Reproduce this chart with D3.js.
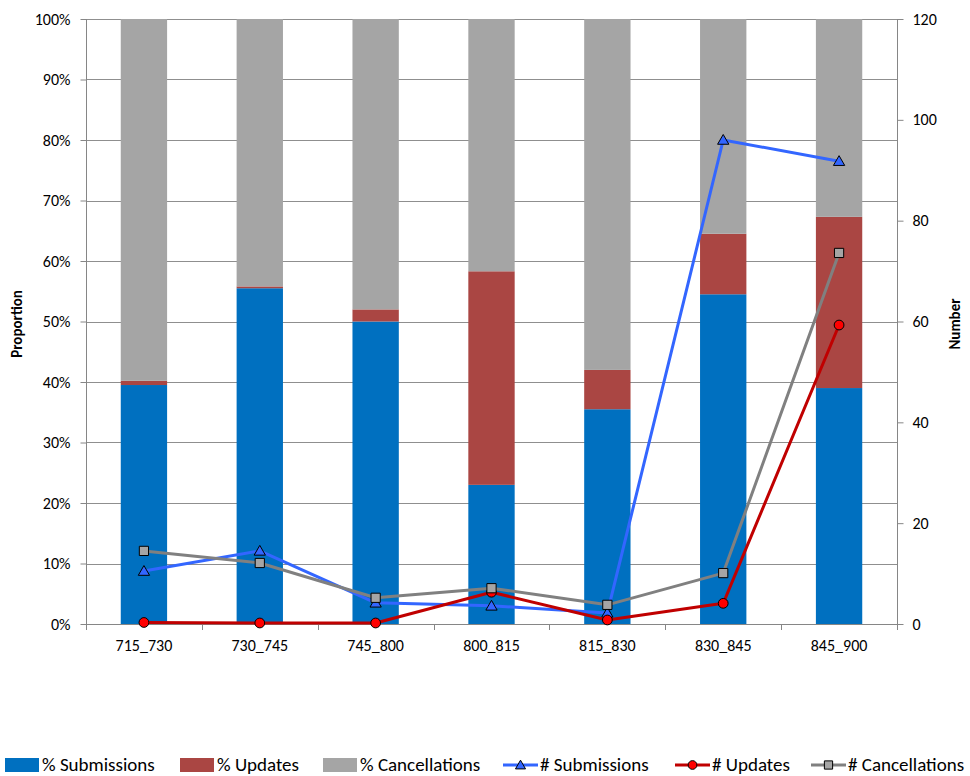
<!DOCTYPE html>
<html>
<head>
<meta charset="utf-8">
<script src="https://cdn.jsdelivr.net/npm/d3@7"></script>
<style>
  body { margin: 0; background: #fff; }
  svg text { font-family: Carlito, Calibri, Lato, "Open Sans", sans-serif; fill: #000; }
</style>
</head>
<body>
<svg id="chart" width="970" height="776"></svg>
<script>
// categories and values
var categories = ["715_730", "730_745", "745_800", "800_815", "815_830", "830_845", "845_900"];
var pctSubmissions = [39.5, 55.5, 50.0, 23.0, 35.5, 54.5, 39.0];
var pctUpdates     = [0.7, 0.3, 2.0, 35.3, 6.5, 10.0, 28.3];
var pctCancellations = [59.8, 44.2, 48.0, 41.7, 58.0, 35.5, 32.7];
var numSubmissions   = [10.5, 14.5, 4.2, 3.6, 2.2, 96.0, 91.8];
var numUpdates       = [0.3, 0.2, 0.2, 6.3, 0.8, 4.1, 59.3];
var numCancellations = [14.5, 12.1, 5.2, 7.1, 3.8, 10.1, 73.6];
var leftTicks = [0, 10, 20, 30, 40, 50, 60, 70, 80, 90, 100];
var rightTicks = [0, 20, 40, 60, 80, 100, 120];

var svg = d3.select("#chart");
var plotLeft = 86, plotRight = 897, plotTop = 19, plotBottom = 624;

var x = d3.scaleBand().domain(categories).range([plotLeft, plotRight]).padding(0);
var yL = d3.scaleLinear().domain([0, 100]).range([plotBottom, plotTop]);
var yR = d3.scaleLinear().domain([0, 120]).range([plotBottom, plotTop]);
var barW = x.bandwidth() * 0.4;

// gridlines
svg.append("g").selectAll("line").data(leftTicks.slice(1)).enter().append("line")
    .attr("x1", plotLeft).attr("x2", plotRight)
    .attr("y1", function(d){ return Math.round(yL(d)) + 0.5; })
    .attr("y2", function(d){ return Math.round(yL(d)) + 0.5; })
    .style("stroke", "#8f8f8f").style("stroke-width", 1);

// stacked bars
var stackRows = categories.map(function(c, i){
    return {cat: c, sub: pctSubmissions[i], upd: pctUpdates[i], can: pctCancellations[i]};
});
var stack = d3.stack().keys(["sub", "upd", "can"]);
var barColors = {sub: "#0070C0", upd: "#AA4643", can: "#A5A5A5"};
svg.append("g").selectAll("g").data(stack(stackRows)).enter().append("g")
    .style("fill", function(d){ return barColors[d.key]; })
    .selectAll("rect").data(function(d){ return d; }).enter().append("rect")
    .attr("x", function(d){ return x(d.data.cat) + (x.bandwidth() - barW) / 2; })
    .attr("width", barW)
    .attr("y", function(d){ return yL(Math.min(d[1], 100)); })
    .attr("height", function(d){ return yL(d[0]) - yL(Math.min(d[1], 100)); });

// axes
var axisColor = "#868686";
var gL = svg.append("g").attr("transform", "translate(" + (plotLeft + 0.5) + ",0)")
    .call(d3.axisLeft(yL).tickValues(leftTicks).tickSize(6).tickPadding(10)
        .tickFormat(function(d){ return d + "%"; }));
var gR = svg.append("g").attr("transform", "translate(" + (plotRight + 0.5) + ",0)")
    .call(d3.axisRight(yR).tickValues(rightTicks).tickSize(6).tickPadding(9));
var gB = svg.append("g").attr("transform", "translate(0," + (plotBottom + 0.5) + ")")
    .call(d3.axisBottom(x).tickSize(0).tickPadding(15));
[gL, gR, gB].forEach(function(g){
    g.select(".domain").style("stroke", axisColor);
    g.selectAll(".tick line").style("stroke", axisColor);
    g.selectAll("text").style("font-size", "16px").style("font-family", "Carlito, Calibri, Lato, sans-serif");
});
gL.select(".domain").attr("d", "M0," + plotTop + "V" + plotBottom);
gR.select(".domain").attr("d", "M0," + plotTop + "V" + plotBottom);
gB.select(".domain").attr("d", "M" + plotLeft + ",0H" + plotRight);
// category separator ticks on bottom axis
svg.append("g").selectAll("line").data(d3.range(categories.length + 1)).enter().append("line")
    .attr("x1", function(i){ return Math.round(plotLeft + i * x.step()) + 0.5; })
    .attr("x2", function(i){ return Math.round(plotLeft + i * x.step()) + 0.5; })
    .attr("y1", plotBottom).attr("y2", plotBottom + 6)
    .style("stroke", axisColor);

// axis titles
svg.append("text").attr("transform", "translate(22,324) rotate(-90)")
    .attr("text-anchor", "middle").style("font-size", "15px").style("font-weight", "bold")
    .text("Proportion");
svg.append("text").attr("transform", "translate(960,324) rotate(-90)")
    .attr("text-anchor", "middle").style("font-size", "15px").style("font-weight", "bold")
    .text("Number");

// lines
var lineSeries = [
    {name: "# Submissions", values: numSubmissions, color: "#3366FF", fill: "#3366FF", marker: "triangle"},
    {name: "# Updates", values: numUpdates, color: "#C00000", fill: "#FF0000", marker: "circle"},
    {name: "# Cancellations", values: numCancellations, color: "#808080", fill: "#A5A5A5", marker: "square"}
];
var cx = function(i){ return x(categories[i]) + x.bandwidth() / 2; };
var line = d3.line().x(function(d, i){ return cx(i); }).y(function(d){ return yR(d); });

function marker(g, type, fill, px, py, size){
    var sym = type == "triangle" ? d3.symbolTriangle : (type == "circle" ? d3.symbolCircle : d3.symbolSquare);
    var area = type == "triangle" ? 55 : (type == "circle" ? 75 : 85);
    g.append("path")
        .attr("d", d3.symbol().type(sym).size(area * (size || 1))())
        .attr("transform", "translate(" + px + "," + (py + (type == "triangle" ? 1 : 0)) + ")")
        .style("fill", fill).style("stroke", "#000").style("stroke-width", 1);
}

lineSeries.forEach(function(s){
    var g = svg.append("g");
    g.append("path").attr("d", line(s.values))
        .style("fill", "none").style("stroke", s.color).style("stroke-width", 3)
        .style("stroke-linejoin", "round");
    s.values.forEach(function(v, i){ marker(g, s.marker, s.fill, cx(i), yR(v)); });
});

// legend
var legendItems = [
    {name: "% Submissions", type: "bar", color: "#0070C0"},
    {name: "% Updates", type: "bar", color: "#AA4643"},
    {name: "% Cancellations", type: "bar", color: "#A5A5A5"}
].concat(lineSeries.map(function(s){ return {name: s.name, type: "line", color: s.color, fill: s.fill, marker: s.marker}; }));
var legendX = [5, 180, 323, 503, 675, 811];
var lg = svg.append("g");
legendItems.forEach(function(it, i){
    var gx = legendX[i], gy = 765;
    if(it.type == "bar"){
        lg.append("rect").attr("x", gx).attr("y", gy - 7).attr("width", 34).attr("height", 14)
            .style("fill", it.color);
    }else{
        lg.append("line").attr("x1", gx).attr("x2", gx + 35).attr("y1", gy).attr("y2", gy)
            .style("stroke", it.color).style("stroke-width", 3);
        marker(lg, it.marker, it.fill, gx + 17.5, gy, 0.8);
    }
    lg.append("text").attr("x", gx + 37).attr("y", gy + 6)
        .style("font-size", "19px").text(it.name);
});
</script>
</body>
</html>
